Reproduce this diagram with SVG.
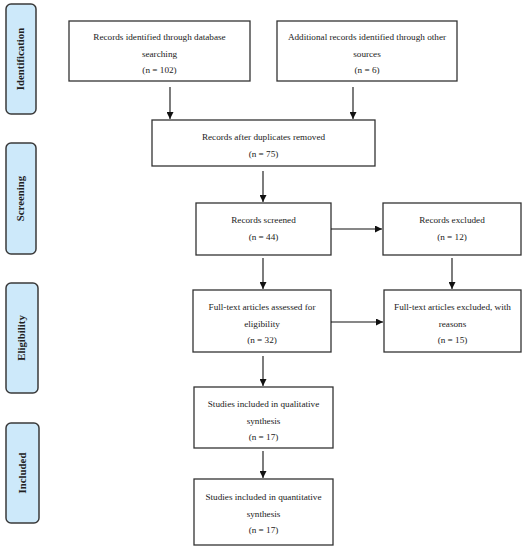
<svg xmlns="http://www.w3.org/2000/svg" width="526" height="550" viewBox="0 0 526 550">
<defs>
<style>
.box{fill:#fff;stroke:#333;stroke-width:1.3}
.side{fill:#cde9fa;stroke:#3a3a3a;stroke-width:1.5}
.t{font-family:"Liberation Serif","DejaVu Serif",serif;font-size:9.2px;fill:#222;text-anchor:middle}
.s{font-family:"Liberation Serif","DejaVu Serif",serif;font-size:10.8px;font-weight:bold;fill:#222;text-anchor:middle}
.c{stroke:#111;stroke-width:1.1;fill:none;marker-end:url(#ah)}
</style>
<marker id="ah" viewBox="0 0 10 10" refX="10" refY="5" markerWidth="7" markerHeight="7" orient="auto" markerUnits="userSpaceOnUse">
<path d="M0,0 L10,5 L0,10 Z" fill="#111"/>
</marker>
</defs>
<rect width="526" height="550" fill="#fff"/>
<g id="side-identification"><rect class="side" x="6" y="4" width="30" height="110" rx="5"/><text class="s" transform="translate(24,59) rotate(-90)">Identification</text></g>
<g id="side-screening"><rect class="side" x="6" y="143" width="30" height="111" rx="5"/><text class="s" transform="translate(24,198.5) rotate(-90)">Screening</text></g>
<g id="side-eligibility"><rect class="side" x="6" y="283" width="32" height="110" rx="5"/><text class="s" transform="translate(25,338) rotate(-90)">Eligibility</text></g>
<g id="side-included"><rect class="side" x="6" y="423" width="33" height="100" rx="5"/><text class="s" transform="translate(26,473) rotate(-90)">Included</text></g>

<g id="n1"><rect class="box" x="69" y="21" width="181" height="60"/><text class="t" x="159.5" y="40">Records identified through database</text><text class="t" x="159.5" y="57">searching</text><text class="t" x="159.5" y="73">(n = 102)</text></g>
<g id="n2"><rect class="box" x="277" y="21" width="180" height="60"/><text class="t" x="367" y="40">Additional records identified through other</text><text class="t" x="367" y="57">sources</text><text class="t" x="367" y="73">(n = 6)</text></g>
<g id="n3"><rect class="box" x="152" y="120" width="223" height="46"/><text class="t" x="263.5" y="140">Records after duplicates removed</text><text class="t" x="263.5" y="157">(n = 75)</text></g>
<g id="n4"><rect class="box" x="196" y="203" width="135" height="52"/><text class="t" x="263.5" y="223">Records screened</text><text class="t" x="263.5" y="240">(n = 44)</text></g>
<g id="n5"><rect class="box" x="383" y="203" width="138" height="52"/><text class="t" x="452" y="223">Records excluded</text><text class="t" x="452" y="240">(n = 12)</text></g>
<g id="n6"><rect class="box" x="193" y="290" width="138" height="62"/><text class="t" x="262" y="310">Full-text articles assessed for</text><text class="t" x="262" y="327">eligibility</text><text class="t" x="262" y="343">(n = 32)</text></g>
<g id="n7"><rect class="box" x="384" y="290" width="137" height="62"/><text class="t" x="452.5" y="310">Full-text articles excluded, with</text><text class="t" x="452.5" y="327">reasons</text><text class="t" x="452.5" y="343">(n = 15)</text></g>
<g id="n8"><rect class="box" x="194" y="387" width="139" height="61"/><text class="t" x="263.5" y="407">Studies included in qualitative</text><text class="t" x="263.5" y="424">synthesis</text><text class="t" x="263.5" y="440">(n = 17)</text></g>
<g id="n9"><rect class="box" x="194" y="479" width="139" height="66"/><text class="t" x="263.5" y="500">Studies included in quantitative</text><text class="t" x="263.5" y="517">synthesis</text><text class="t" x="263.5" y="533">(n = 17)</text></g>

<g id="connectors">
<line class="c" x1="170" y1="87" x2="170" y2="119"/>
<line class="c" x1="353" y1="87" x2="353" y2="119"/>
<line class="c" x1="263" y1="171" x2="263" y2="202"/>
<line class="c" x1="331" y1="229" x2="382" y2="229"/>
<line class="c" x1="263" y1="258" x2="263" y2="289"/>
<line class="c" x1="452" y1="258" x2="452" y2="289"/>
<line class="c" x1="331" y1="322" x2="383" y2="322"/>
<line class="c" x1="263" y1="356" x2="263" y2="386"/>
<line class="c" x1="263" y1="451" x2="263" y2="478"/>
</g>
</svg>
